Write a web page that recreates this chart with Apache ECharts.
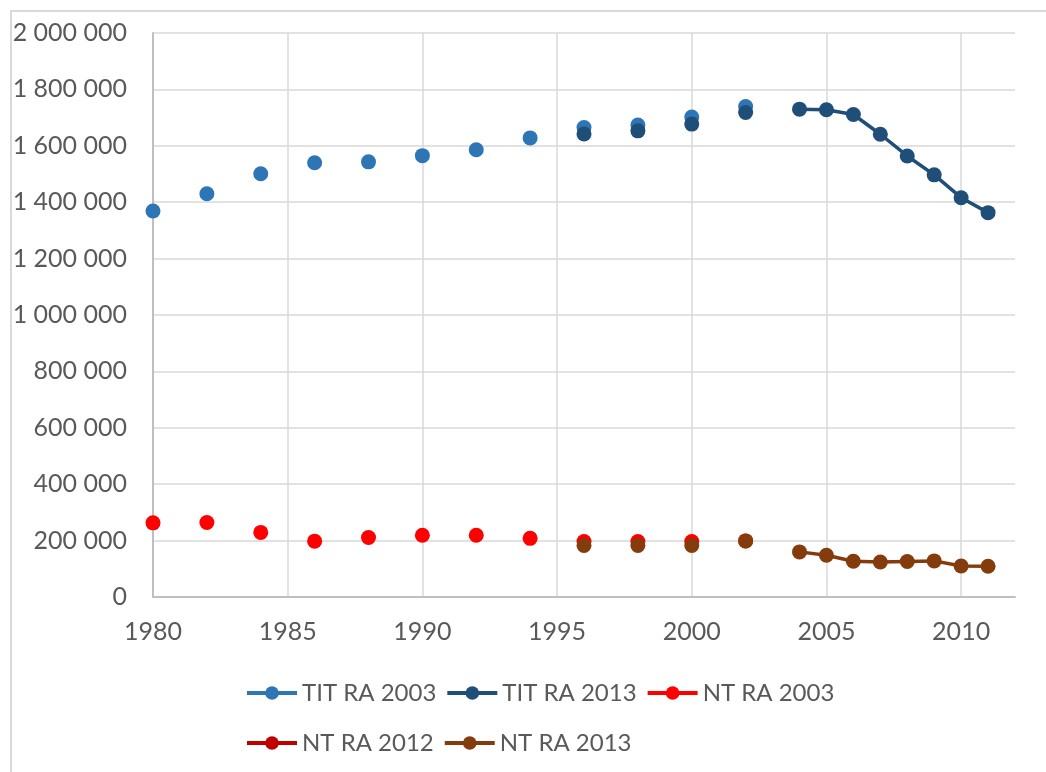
<!DOCTYPE html>
<html>
<head>
<meta charset="utf-8">
<script src="https://cdn.jsdelivr.net/npm/echarts@6/dist/echarts.min.js"></script>
<style>
	html, body { margin: 0; padding: 0; background: #fff; }
	#chart { width: 1046px; height: 772px; }
</style>
</head>
<body>
<div id="chart"></div>
<script>
// data
var titYears2003 = [1980, 1982, 1984, 1986, 1988, 1990, 1992, 1994, 1996, 1998, 2000, 2002]
var tit2003 = [1369000, 1430000, 1501000, 1540000, 1543000, 1565000, 1586000, 1628000, 1665000, 1674000, 1702000, 1739000]

var titYears2013 = [1996, 1998, 2000, 2002, 2004, 2005, 2006, 2007, 2008, 2009, 2010, 2011]
var tit2013 = [1642000, 1653000, 1677000, 1718000, 1730000, 1728000, 1711000, 1641000, 1564000, 1497000, 1416000, 1363000]

var ntYears2003 = [1980, 1982, 1984, 1986, 1988, 1990, 1992, 1994, 1996, 1998, 2000, 2002]
var nt2003 = [263000, 264000, 229000, 198000, 211000, 219000, 219000, 208000, 197000, 197000, 197000, 199000]

var ntYears2012 = []
var nt2012 = []

var ntYears2013 = [1996, 1998, 2000, 2002, 2004, 2005, 2006, 2007, 2008, 2009, 2010, 2011]
var nt2013 = [183000, 183000, 183000, 199000, 160000, 148000, 127000, 124000, 126000, 128000, 110000, 109000]

var names = ['TIT RA 2003', 'TIT RA 2013', 'NT RA 2003', 'NT RA 2012', 'NT RA 2013']
var colors = ['#2E75B6', '#1F4E79', '#FF0000', '#C00000', '#843C0C']

var FONT = 'Lato, "Open Sans", sans-serif'
var TXT = '#595959'

// pairs, with a gap where a year is missing (Excel leaves empty cells unjoined)
function pairs(years, vals) {
	var out = []
	for (var i = 0; i < years.length; i++) {
		if (i > 0 && years[i] - years[i - 1] > 1) out.push([years[i] - 1, '-'])
		out.push([years[i], vals[i]])
	}
	return out
}

function spaced(v) {
	return String(v).replace(/\B(?=(\d{3})+(?!\d))/g, ' ')
}

var allData = [
	pairs(titYears2003, tit2003),
	pairs(titYears2013, tit2013),
	pairs(ntYears2003, nt2003),
	pairs(ntYears2012, nt2012),
	pairs(ntYears2013, nt2013)
]

var series = names.map(function (n, i) {
	return {
		name: n,
		type: 'line',
		data: allData[i],
		connectNulls: false,
		symbol: 'circle',
		symbolSize: 15,
		showAllSymbol: true,
		lineStyle: { width: 3.5, color: colors[i] },
		itemStyle: { color: colors[i] },
		emphasis: { disabled: true },
		animation: false
	}
})

var gridColors = ['#d9d9d9', '#d9d9d9', '#d9d9d9', '#d9d9d9', '#d9d9d9', '#d9d9d9', '#d9d9d9', 'rgba(0,0,0,0)']

var legendText = { fontFamily: FONT, fontSize: 24, color: TXT }

var myChart = echarts.init(document.getElementById('chart'))
var option = {
	color: colors,
	animation: false,
	graphic: [{
		type: 'rect',
		shape: { x: 11, y: 11, width: 1200, height: 900 },
		style: { fill: 'none', stroke: '#d9d9d9', lineWidth: 2 },
		silent: true
	}],
	grid: { left: 153, right: 31, top: 33, bottom: 175 },
	legend: [{
		data: names.slice(0, 3),
		left: 240, top: 676,
		itemWidth: 50, itemHeight: 17, itemGap: 9,
		lineStyle: { width: 4 },
		textStyle: legendText
	}, {
		data: names.slice(3),
		left: 240, top: 726,
		itemWidth: 50, itemHeight: 17, itemGap: 9,
		lineStyle: { width: 4 },
		textStyle: legendText
	}],
	xAxis: {
		type: 'value',
		min: 1980, max: 2012, interval: 5,
		axisLine: { show: true, lineStyle: { color: '#bfbfbf', width: 2 } },
		axisTick: { show: false },
		axisLabel: {
			fontFamily: FONT, fontSize: 25, color: TXT, margin: 22,
			formatter: function (v) { return v % 5 === 0 ? String(v) : '' }
		},
		splitLine: { show: true, lineStyle: { color: gridColors, width: 1.5 } }
	},
	yAxis: {
		type: 'value',
		min: 0, max: 2000000, interval: 200000,
		axisLine: { show: true, lineStyle: { color: '#bfbfbf', width: 2 } },
		axisTick: { show: false },
		axisLabel: {
			fontFamily: FONT, fontSize: 25, color: TXT, margin: 26,
			formatter: spaced
		},
		splitLine: { show: true, lineStyle: { color: '#d9d9d9', width: 1.5 } }
	},
	series: series
}
myChart.setOption(option)
</script>
</body>
</html>
